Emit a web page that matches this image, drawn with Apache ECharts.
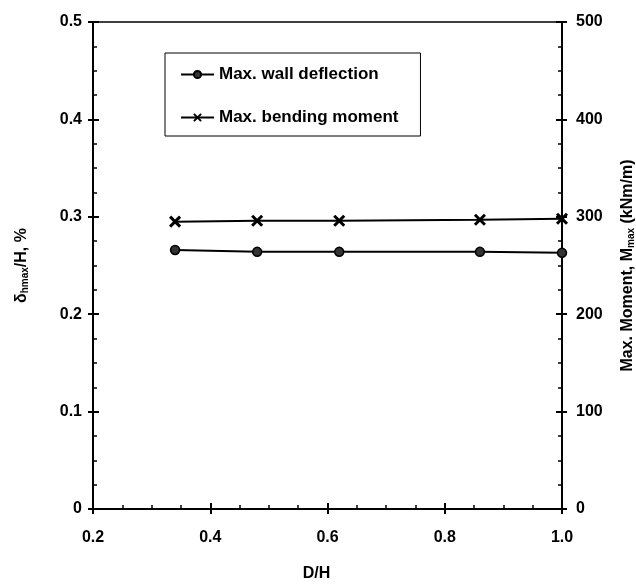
<!DOCTYPE html>
<html>
<head>
<meta charset="utf-8">
<script src="https://cdn.jsdelivr.net/npm/echarts@6/dist/echarts.min.js"></script>
<style>
html,body{margin:0;padding:0;background:#fff}
#chart{width:636px;height:584px}
</style>
</head>
<body>
<div id="chart"></div>
<script>
// D/H values
var dh = [0.34, 0.48, 0.62, 0.86, 1.0]
// max wall deflection, %
var deflection = [0.266, 0.264, 0.264, 0.264, 0.263]
// max bending moment, kNm/m
var moment = [295, 296, 296, 297, 298]

var font = 'Liberation Sans, Arial, sans-serif'
var crossIcon = 'path://M0,0L10,10M10,0L0,10'

function pairs(xs, ys) {
	return xs.map(function (x, i) { return [x, ys[i]] })
}

var labelStyle = { color: '#000', fontFamily: font, fontWeight: 'bold', fontSize: 16 }
var subStyle = { color: '#000', fontFamily: font, fontWeight: 'bold', fontSize: 10, padding: [7, 0, 0, 0] }

var option = {
	animation: false,
	backgroundColor: '#fff',
	grid: { left: 93, right: 74, top: 22, bottom: 75, outerBoundsMode: 'none', show: true, borderColor: '#000', borderWidth: 1.5 },
	legend: {
		orient: 'vertical',
		left: 165, top: 53,
		padding: [13, 22, 10, 15],
		itemGap: 26,
		itemWidth: 33, itemHeight: 9,
		borderColor: '#000', borderWidth: 1,
		textStyle: { color: '#000', fontFamily: font, fontWeight: 'bold', fontSize: 17 },
		data: ['Max. wall deflection', 'Max. bending moment']
	},
	xAxis: [{
		type: 'value', min: 0.2, max: 1.0, interval: 0.2,
		name: 'D/H', nameLocation: 'middle', nameGap: 57,
		nameTextStyle: Object.assign({ padding: [0, 22, 0, 0] }, labelStyle),
		axisLine: { lineStyle: { color: '#000', width: 2 } },
		axisTick: { inside: false, length: 5, lineStyle: { color: '#000', width: 2 } },
		axisLabel: Object.assign({ margin: 21, formatter: function (v) { return v.toFixed(1) } }, labelStyle),
		splitLine: { show: false }
	}, {
		type: 'value', min: 0.2, max: 1.0, interval: 0.2, position: 'bottom',
		axisLine: { show: false },
		axisTick: { inside: true, length: 6, lineStyle: { color: '#000', width: 2 } },
		minorTick: { show: true, splitNumber: 4, length: 4, lineStyle: { color: '#000', width: 1.5 } },
		axisLabel: { show: false },
		splitLine: { show: false }
	}],
	yAxis: [{
		type: 'value', min: 0, max: 0.5, interval: 0.1, position: 'left',
		name: '{t|δ}{s|hmax}{t|/H, %}', nameLocation: 'middle', nameGap: 63,
		nameTextStyle: { rich: { t: labelStyle, s: subStyle } },
		axisLine: { lineStyle: { color: '#000', width: 2 } },
		axisTick: { inside: false, length: 5, lineStyle: { color: '#000', width: 2 } },
		axisLabel: Object.assign({ margin: 11, formatter: function (v) { return v === 0 ? '0' : v.toFixed(1) } }, labelStyle),
		splitLine: { show: false }
	}, {
		type: 'value', min: 0, max: 500, interval: 100, position: 'right',
		name: '{t|Max. Moment, M}{s|max}{t| (kNm/m)}', nameLocation: 'middle', nameGap: 57, nameRotate: 90,
		nameTextStyle: { rich: { t: labelStyle, s: subStyle } },
		axisLine: { lineStyle: { color: '#000', width: 2 } },
		axisTick: { inside: false, length: 5, lineStyle: { color: '#000', width: 2 } },
		axisLabel: Object.assign({ margin: 14 }, labelStyle),
		splitLine: { show: false }
	}, {
		type: 'value', min: 0, max: 0.5, interval: 0.1, position: 'left',
		axisLine: { show: false },
		axisTick: { inside: true, length: 6, lineStyle: { color: '#000', width: 2 } },
		minorTick: { show: true, splitNumber: 4, length: 4, lineStyle: { color: '#000', width: 1.5 } },
		axisLabel: { show: false },
		splitLine: { show: false }
	}, {
		type: 'value', min: 0, max: 500, interval: 100, position: 'right',
		axisLine: { show: false },
		axisTick: { inside: true, length: 6, lineStyle: { color: '#000', width: 2 } },
		minorTick: { show: true, splitNumber: 4, length: 4, lineStyle: { color: '#000', width: 1.5 } },
		axisLabel: { show: false },
		splitLine: { show: false }
	}],
	series: [{
		name: 'Max. wall deflection',
		type: 'line',
		yAxisIndex: 0,
		data: pairs(dh, deflection),
		symbol: 'circle', symbolSize: 9,
		lineStyle: { color: '#000', width: 2 },
		itemStyle: { color: '#333', borderColor: '#000', borderWidth: 1.5 }
	}, {
		name: 'Max. bending moment',
		type: 'line',
		yAxisIndex: 1,
		data: pairs(dh, moment),
		symbol: crossIcon, symbolSize: 10,
		lineStyle: { color: '#000', width: 2 },
		itemStyle: { color: '#000', borderColor: '#000', borderWidth: 3 }
	}]
}

var myChart = echarts.init(document.getElementById('chart'))
myChart.setOption(option)
</script>
</body>
</html>
